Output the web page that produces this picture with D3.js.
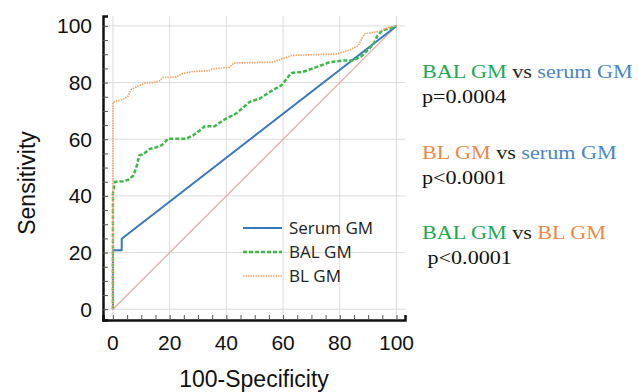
<!DOCTYPE html>
<html>
<head>
<meta charset="utf-8">
<script src="https://cdn.jsdelivr.net/npm/d3@7"></script>
<style>
  body { margin: 0; background: #fff; }
  svg { display: block; }
</style>
</head>
<body>
<div id="chart"></div>
<script>
// ROC points: [100-specificity, sensitivity]
const serumGM = [[0, 0], [0, 20.8], [3.1, 20.8], [3.1, 24.9], [100, 100]];
const balGM = [[0, 0], [0, 41], [0.7, 44.9], [3.6, 45.2], [5.4, 45.7], [7.2, 47.2], [8.3, 50.2], [9.3, 54.3],
  [10.7, 54.7], [13, 56.6], [15.4, 57.2], [17.1, 57.8], [18.3, 59], [19.5, 60.2], [25.9, 60.2], [28.3, 61.4],
  [30.6, 63.1], [32.4, 64.6], [35.9, 64.6], [38.8, 66.7], [43.5, 69.1], [48.2, 73.2], [51.7, 74.3], [55.3, 76.7],
  [59.4, 79], [62.9, 83.4], [67, 83.8], [70.5, 85], [76.4, 87.2], [81, 87.8], [84.5, 87.8], [87.5, 89.2],
  [90.5, 92], [92.3, 94.3], [93.3, 96.6], [95, 98.4], [99.3, 99.6], [100, 100]];
const blGM = [[0, 0], [0, 73], [1.2, 73.5], [3.5, 74], [5.3, 75.2], [6.5, 77.6], [8.9, 78.8], [11.8, 80],
  [14.1, 80], [16.4, 80.6], [17.6, 81.8], [22.3, 82], [24.6, 83.2], [28, 83.9], [34, 84.2], [35, 84.8],
  [41, 85.4], [42.7, 86.9], [56.2, 87.2], [59.7, 88.4], [63.3, 89.6], [79, 90.1], [83.2, 91.4], [86.5, 93],
  [88.7, 97.2], [94, 98.1], [97.5, 99.6], [100, 100]];
const reference = [[0, 0], [100, 100]];

const majorTicks = [0, 20, 40, 60, 80, 100];
const minorTicks = d3.range(0, 101, 5);

const series = [
  { name: 'Serum GM', data: serumGM, color: '#3a78bd', width: 2, dash: null },
  { name: 'BAL GM', data: balGM, color: '#3db94a', width: 2.5, dash: '4,2' },
  { name: 'BL GM', data: blGM, color: '#f6a76c', width: 1.7, dash: '1.5,1' }
];

// comparisons shown at the right
const notes = [
  { parts: [['BAL GM', '#22a94f'], [' vs ', '#222'], ['serum GM', '#4a87c6']], p: 'p=0.0004' },
  { parts: [['BL GM', '#ee8847'], [' vs ', '#222'], ['serum GM', '#4a87c6']], p: 'p<0.0001' },
  { parts: [['BAL GM', '#22a94f'], [' vs ', '#222'], ['BL GM', '#ee8847']], p: ' p<0.0001' }
];

const W = 638, H = 392;
const svg = d3.select('#chart').append('svg').attr('width', W).attr('height', H);

const x = d3.scaleLinear().domain([-3.5, 103]).range([103, 405]);
const y = d3.scaleLinear().domain([-3.8, 103.5]).range([320, 16]);

// grid
const grid = svg.append('g').attr('stroke', '#dcdcdc').attr('stroke-width', 1);
grid.selectAll('.gx').data(majorTicks).join('line')
  .attr('x1', d => x(d)).attr('x2', d => x(d))
  .attr('y1', y.range()[1]).attr('y2', y.range()[0]);
grid.selectAll('.gy').data(majorTicks).join('line')
  .attr('y1', d => y(d)).attr('y2', d => y(d))
  .attr('x1', x.range()[0]).attr('x2', x.range()[1]);

// axes: minor ticks pointing inward, labels only at majors
const xAxis = svg.append('g').attr('transform', `translate(0,${y.range()[0]})`)
  .call(d3.axisTop(x).tickValues(minorTicks).tickSize(5).tickFormat(''));
const yAxis = svg.append('g').attr('transform', `translate(${x.range()[0]},0)`)
  .call(d3.axisRight(y).tickValues(minorTicks).tickSize(5).tickFormat(''));
[xAxis, yAxis].forEach(a => {
  a.select('.domain').attr('stroke', '#111').attr('stroke-width', 2.5);
  a.selectAll('.tick line').attr('stroke', '#555').attr('stroke-width', 1);
});

svg.append('g').selectAll('text').data(majorTicks).join('text')
  .attr('x', d => x(d)).attr('y', 350)
  .attr('text-anchor', 'middle')
  .attr('font-family', 'Liberation Sans, Arial, sans-serif').attr('font-size', 21)
  .attr('fill', '#111').text(d => d);
svg.append('g').selectAll('text').data(majorTicks).join('text')
  .attr('x', 92).attr('y', d => y(d)).attr('dy', '0.36em')
  .attr('text-anchor', 'end')
  .attr('font-family', 'Liberation Sans, Arial, sans-serif').attr('font-size', 21)
  .attr('fill', '#111').text(d => d);

svg.append('text').attr('x', 254).attr('y', 387).attr('text-anchor', 'middle')
  .attr('font-family', 'Liberation Sans, Arial, sans-serif').attr('font-size', 23)
  .attr('fill', '#111').text('100-Specificity');
svg.append('text').attr('transform', 'translate(35,183) rotate(-90)').attr('text-anchor', 'middle')
  .attr('font-family', 'Liberation Sans, Arial, sans-serif').attr('font-size', 23)
  .attr('fill', '#111').text('Sensitivity');

// curves (serum first so the dashed/dotted curves stay visible on the y axis)
const line = d3.line().x(d => x(d[0])).y(d => y(d[1]));
svg.append('path').datum(reference)
  .attr('fill', 'none').attr('stroke', '#e4a7a4').attr('stroke-width', 1.2).attr('d', line);
series.forEach(s => {
  svg.append('path').datum(s.data)
    .attr('fill', 'none').attr('stroke', s.color).attr('stroke-width', s.width)
    .attr('stroke-dasharray', s.dash).attr('stroke-linejoin', 'round')
    .attr('d', line);
});

// legend
const legend = svg.append('g').attr('transform', 'translate(243,228)');
series.forEach((s, i) => {
  const g = legend.append('g').attr('transform', `translate(0,${i * 24})`);
  g.append('line').attr('x1', 0).attr('x2', 39)
    .attr('stroke', s.color).attr('stroke-width', s.width).attr('stroke-dasharray', s.dash);
  g.append('text').attr('x', 46).attr('dy', '0.35em')
    .attr('font-family', 'Open Sans, sans-serif').attr('font-size', 17)
    .attr('fill', '#222').text(s.name);
});

// comparison notes
const noteTop = [78, 159, 239];
notes.forEach((n, i) => {
  const g = svg.append('g').attr('transform', `translate(422,${noteTop[i]}) scale(1.23,1)`)
    .attr('font-family', 'Liberation Serif, Times New Roman, serif').attr('font-size', 18);
  const t = g.append('text');
  n.parts.forEach(p => t.append('tspan').attr('fill', p[1]).text(p[0]));
  g.append('text').attr('y', 25).attr('fill', '#111')
    .style('white-space', 'pre').text(n.p);
});
</script>
</body>
</html>
